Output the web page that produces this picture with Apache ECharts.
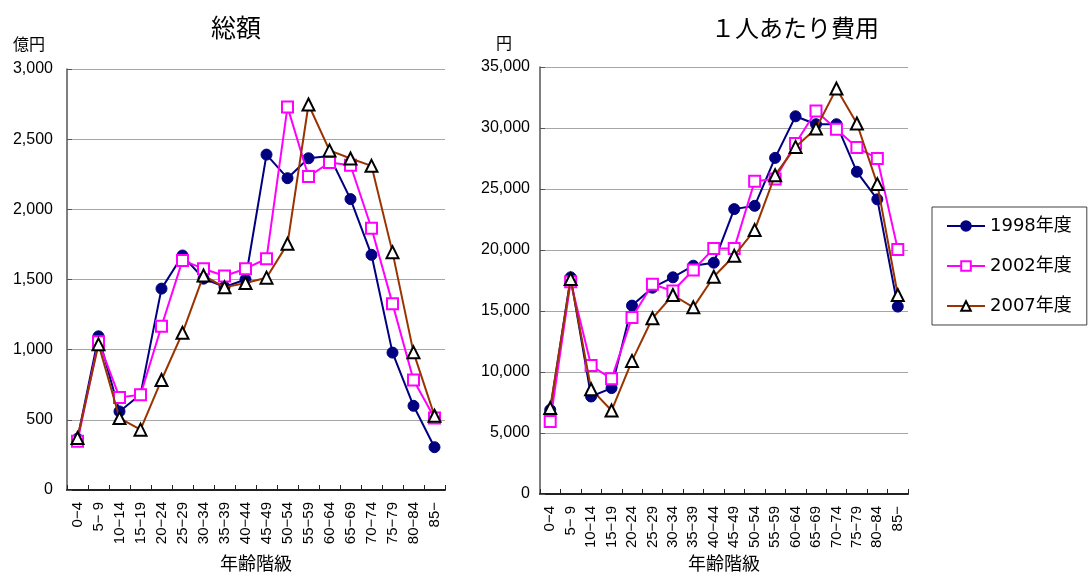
<!DOCTYPE html>
<html>
<head>
<meta charset="utf-8">
<script src="https://cdn.jsdelivr.net/npm/echarts@6/dist/echarts.min.js"></script>
<style>
html,body{margin:0;padding:0;background:#fff;}
#chart{width:1091px;height:579px;}
</style>
</head>
<body>
<div id="chart"></div>
<script>
// 年齢階級
const ageGroups = ['0−4','5− 9','10−14','15−19','20−24','25−29','30−34','35−39','40−44',
  '45−49','50−54','55−59','60−64','65−69','70−74','75−79','80−84','85−'];

const seriesNames = ['1998年度','2002年度','2007年度'];

// 総額（億円）
const total1998 = [365,1095,560,680,1435,1671,1506,1447,1500,2390,2222,2364,2380,2073,1676,979,600,305];
const total2002 = [347,1057,660,678,1167,1636,1577,1525,1577,1648,2730,2234,2333,2314,1865,1328,784,513];
const total2007 = [371,1038,513,430,784,1120,1529,1444,1475,1513,1754,2747,2420,2362,2310,1695,981,529];

// 1人あたり費用（円）
const perCap1998 = [6900,17760,7990,8680,15440,16910,17760,18710,18960,23350,23620,27550,30960,30310,30310,26410,24150,15360];
const perCap2002 = [5940,17400,10530,9440,14460,17190,16640,18360,20130,20130,25640,25810,28730,31400,29900,28400,27500,20050];
const perCap2007 = [7040,17620,8590,6840,10910,14400,16310,15300,17810,19530,21630,26130,28450,29960,33230,30370,25400,16310];

const FONT = '"Liberation Sans", "Noto Sans CJK JP", sans-serif';
const WIDE_FONT = '"DejaVu Sans", "Noto Sans CJK JP", sans-serif';

const styles = [
  {color:'#000080', symbol:'circle', symbolSize:11, itemStyle:{color:'#000080', borderColor:'#000080', borderWidth:1}},
  {color:'#FF00FF', symbol:'rect', symbolSize:11, itemStyle:{color:'#ffffff', borderColor:'#FF00FF', borderWidth:2}},
  {color:'#993300', symbol:'triangle', symbolSize:12, itemStyle:{color:'#ffffff', borderColor:'#000000', borderWidth:2}}
];

function makeSeries(datasets, idx){
  return datasets.map((d, i) => ({
    name: seriesNames[i],
    type: 'line',
    xAxisIndex: idx,
    yAxisIndex: idx,
    data: d,
    symbol: styles[i].symbol,
    symbolSize: styles[i].symbolSize,
    showAllSymbol: true,
    lineStyle: {color: styles[i].color, width: 2},
    itemStyle: styles[i].itemStyle,
    z: 2 + i,
    animation: false
  }));
}

function xAxisCfg(gridIndex, gap){
  return {
    type:'category', gridIndex, data: ageGroups, boundaryGap:true,
    name:'年齢階級', nameLocation:'middle', nameGap:gap,
    nameTextStyle:{fontFamily:FONT, fontSize:18, color:'#000'},
    axisLine:{lineStyle:{color:'#222', width:2}},
    axisTick:{show:true, inside:true, length:5, alignWithLabel:false, lineStyle:{color:'#222'}},
    axisLabel:{rotate:90, interval:0, margin:12, fontFamily:FONT, fontSize:15, color:'#000'},
    splitLine:{show:false}
  };
}

function yAxisCfg(gridIndex, max, interval, unit, pad, gap, margin){
  return {
    type:'value', gridIndex, min:0, max, interval,
    name:unit, nameLocation:'end', nameGap:gap,
    nameTextStyle:{fontFamily:FONT, fontSize:16, color:'#000', align:'right', padding:[0,pad,0,0]},
    axisLine:{show:true, lineStyle:{color:'#555', width:1.5}},
    axisTick:{show:true, inside:true, length:5, lineStyle:{color:'#555'}},
    axisLabel:{margin, fontFamily:FONT, fontSize:16, color:'#000',
      formatter: v => v.toLocaleString('en-US')},
    splitLine:{show:true, lineStyle:{color:'#a6a6a6', width:1}}
  };
}

const chart = echarts.init(document.getElementById('chart'), null, {renderer:'canvas'});
chart.setOption({
  backgroundColor:'#ffffff',
  animation:false,
  title:[
    {text:'総額', left:231, top:13, textAlign:'center',
      textStyle:{fontFamily:FONT, fontSize:25, fontWeight:'normal', color:'#000'}},
    {text:'１人あたり費用', left:790, top:13, textAlign:'center',
      textStyle:{fontFamily:FONT, fontSize:24, fontWeight:'normal', color:'#000'}}
  ],
  legend:{
    data: seriesNames,
    orient:'vertical',
    left:932, top:207,
    itemWidth:38, itemHeight:12, itemGap:22,
    padding:[10,15,10,14],
    borderColor:'#404040', borderWidth:1,
    textStyle:{fontFamily:WIDE_FONT, fontSize:18, color:'#000'},
    selectedMode:false
  },
  grid:[
    {left:67, top:69, width:378, height:423},
    {left:540, top:67, width:368, height:427}
  ],
  xAxis:[ xAxisCfg(0, 66), xAxisCfg(1, 62) ],
  yAxis:[
    yAxisCfg(0, 3000, 500, '億円', 22, 15, 14),
    yAxisCfg(1, 35000, 5000, '円', 28, 14, 10)
  ],
  series: [
    ...makeSeries([total1998, total2002, total2007], 0),
    ...makeSeries([perCap1998, perCap2002, perCap2007], 1)
  ]
});
</script>
</body>
</html>
